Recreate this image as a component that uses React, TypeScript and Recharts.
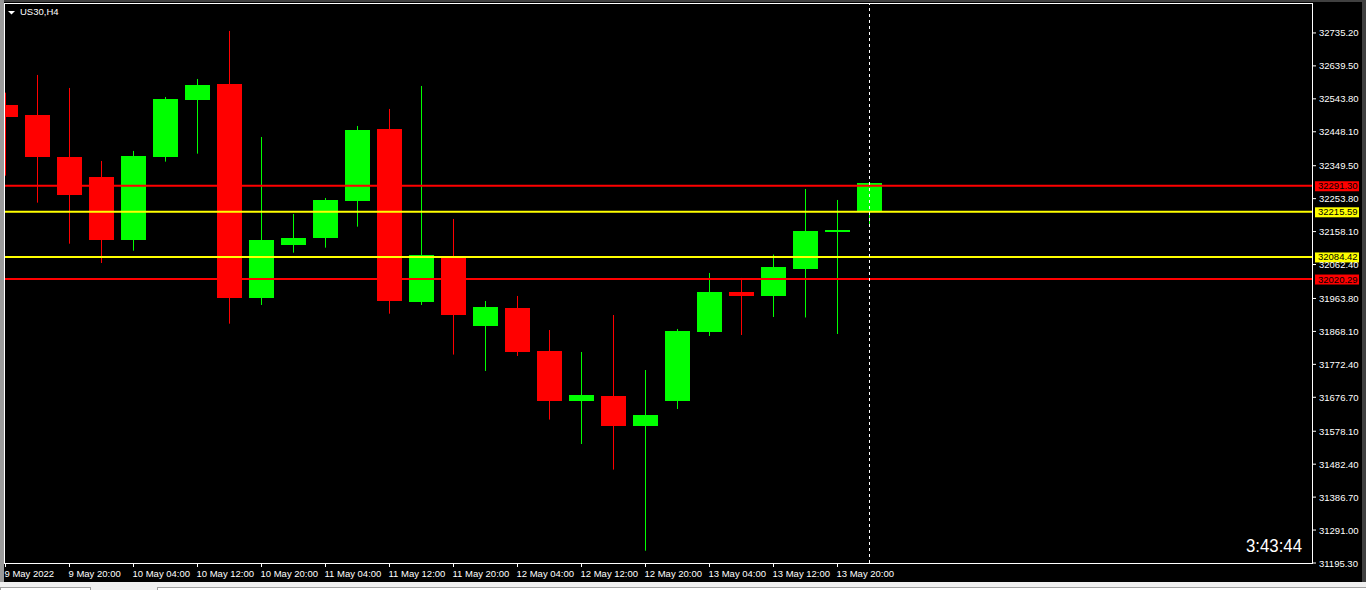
import { ComposedChart, Bar, XAxis, YAxis, ReferenceLine } from "recharts";

// US30 H4 candles, 9 May 12:00 .. 14 May 00:00
const times = [
  "9 May 12:00", "9 May 16:00", "9 May 20:00", "10 May 00:00", "10 May 04:00", "10 May 08:00",
  "10 May 12:00", "10 May 16:00", "10 May 20:00", "11 May 00:00", "11 May 04:00", "11 May 08:00",
  "11 May 12:00", "11 May 16:00", "11 May 20:00", "12 May 00:00", "12 May 04:00", "12 May 08:00",
  "12 May 12:00", "12 May 16:00", "12 May 20:00", "13 May 00:00", "13 May 04:00", "13 May 08:00",
  "13 May 12:00", "13 May 16:00", "13 May 20:00", "14 May 00:00",
];
const opens = [
  32526.0, 32496.9, 32374.9, 32316.8, 32134.6, 32375.8, 32541.4, 32587.0, 31966.2, 32120.1,
  32140.5, 32247.9, 32456.3, 31954.5, 32088.2, 31883.6, 31936.5, 31811.2, 31666.8, 31680.5,
  31593.3, 31666.0, 31866.5, 31982.7, 31971.1, 32049.5, 32157.0, 32218.0,
];
const highs = [
  32561.7, 32613.2, 32575.4, 32363.3, 32392.4, 32549.2, 32601.5, 32741.0, 32433.0, 32209.3,
  32255.8, 32465.0, 32514.4, 32581.2, 32194.8, 31956.5, 31971.1, 31872.2, 31808.3, 31915.8,
  31756.0, 31875.2, 32037.9, 32023.4, 32091.3, 32281.9, 32250.0, 32299.7,
];
const lows = [
  32320.6, 32242.2, 32123.0, 32066.9, 32102.7, 32361.3, 32384.5, 31890.6, 31944.9, 32096.9,
  32111.4, 32172.4, 31919.6, 31944.9, 31800.8, 31753.2, 31796.7, 31611.9, 31541.0, 31466.7,
  31231.0, 31642.7, 31854.8, 31857.7, 31910.0, 31908.6, 31860.6, 32171.5,
];
const closes = [
  32492.0, 32375.8, 32265.4, 32134.6, 32377.8, 32543.4, 32584.1, 31966.2, 32133.8, 32139.6,
  32250.0, 32453.4, 31957.4, 32090.2, 31917.0, 31938.8, 31808.0, 31666.0, 31683.4, 31593.3,
  31625.3, 31869.4, 31982.7, 31971.1, 32053.9, 32159.9, 32162.8, 32299.7,
];

const priceTicks = [
  32735.2, 32639.5, 32543.8, 32448.1, 32349.5, 32253.8, 32158.1, 32062.4, 31963.8,
  31868.1, 31772.4, 31676.7, 31578.1, 31482.4, 31386.7, 31291.0, 31195.3,
];
const timeTicks = [0, 2, 4, 6, 8, 10, 12, 14, 16, 18, 20, 22, 24, 26];
const timeLabels = [
  "9 May 2022", "9 May 20:00", "10 May 04:00", "10 May 12:00", "10 May 20:00", "11 May 04:00",
  "11 May 12:00", "11 May 20:00", "12 May 04:00", "12 May 12:00", "12 May 20:00", "13 May 04:00",
  "13 May 12:00", "13 May 20:00",
];
const levels = [32291.30, 32215.59, 32084.42, 32020.29];
const levelColors = ["#ff0000", "#ffff00", "#ffff00", "#ff0000"];
const lastBar = 27;

const data = times.map((t, i) => ({
  i, time: t, open: opens[i], high: highs[i], low: lows[i], close: closes[i],
}));

const FONT = "'Liberation Sans', Arial, sans-serif";
const UP = "#00ff00";
const DOWN = "#ff0000";

function Candle(props: any) {
  const { x, y, width, height, payload } = props;
  const { open, close, high, low } = payload;
  const color = close >= open ? UP : DOWN;
  const k = height / (high - low || 1);
  const py = (v: number) => y + (high - v) * k;
  const cx = Math.round(x + width / 2);
  const top = Math.round(py(Math.max(open, close)));
  const bot = Math.round(py(Math.min(open, close)));
  return (
    <g>
      <line x1={cx + 0.5} x2={cx + 0.5} y1={y} y2={y + height} stroke={color} strokeWidth={1} />
      <rect x={cx - 12} y={top} width={25} height={Math.max(bot - top, 2)} fill={color} />
    </g>
  );
}

const levelTag = (value: number, color: string) => (props: any) => {
  const vb = props.viewBox || {};
  const right = (vb.x ?? 0) + (vb.width ?? 0);
  const y = vb.y ?? 0;
  return (
    <g>
      <rect x={right + 3} y={y - 4.5} width={44} height={10} fill={color} />
      <text x={right + 6} y={y + 3.5} fontSize={9.5} fontFamily={FONT} fill="#000">
        {value.toFixed(2)}
      </text>
    </g>
  );
};

function TimeTick(props: any) {
  const { x, y, payload } = props;
  const idx = timeTicks.indexOf(payload.value);
  return (
    <text x={x - 1} y={y + 8} fontSize={9.5} fontFamily={FONT} fill="#ffffff" textAnchor="start">
      {timeLabels[idx]}
    </text>
  );
}

function PriceTick(props: any) {
  const { x, y, payload } = props;
  return (
    <text x={x + 1} y={y + 3.5} fontSize={9.5} fontFamily={FONT} fill="#ffffff" textAnchor="start">
      {Number(payload.value).toFixed(2)}
    </text>
  );
}

export default function App() {
  return (
    <div style={{ position: "absolute", left: 0, top: 0, width: 1366, height: 590, background: "#000", overflow: "hidden" }}>
      <ComposedChart width={1366} height={590} data={data} margin={{ top: 4, right: 0, bottom: 7, left: 5 }}>
        <XAxis
          dataKey="i"
          type="number"
          domain={[-0.015625, 40.828125]}
          allowDataOverflow
          ticks={timeTicks}
          tick={<TimeTick />}
          tickLine={{ stroke: "#ffffff" }}
          tickSize={4}
          tickMargin={2}
          axisLine={false}
          height={20}
          interval={0}
        />
        <YAxis
          orientation="right"
          domain={[31195.3, 32819.3]}
          allowDataOverflow
          ticks={priceTicks}
          tick={<PriceTick />}
          tickLine={{ stroke: "#ffffff" }}
          tickSize={4}
          tickMargin={2}
          axisLine={false}
          width={54}
          interval={0}
        />
        {levels.map((v, k) => (
          <ReferenceLine key={v} y={v} stroke={levelColors[k]} strokeWidth={2} label={levelTag(v, levelColors[k])} />
        ))}
        <ReferenceLine x={lastBar} stroke="#ffffff" strokeDasharray="3 3" strokeWidth={1} />
        <Bar
          dataKey={(d: any) => [d.low, d.high]}
          barSize={25}
          shape={(p: any) => <Candle {...p} />}
          isAnimationActive={false}
        />
      </ComposedChart>
      <svg width={1366} height={590} style={{ position: "absolute", left: 0, top: 0, pointerEvents: "none" }}>
        <rect x={0} y={0} width={1366} height={2} fill="#404040" />
        <rect x={0} y={0} width={4} height={582} fill="#9a9a9a" />
        <rect x={1362} y={0} width={4} height={582} fill="#404040" />
        <rect x={0} y={582} width={1366} height={8} fill="#f0f0f0" />
        <rect x={0.5} y={587.5} width={90} height={4} fill="#ffffff" stroke="#a0a0a0" />
        <rect x={157.5} y={587.5} width={1210} height={4} fill="#ffffff" stroke="#a0a0a0" />
        <rect x={4.5} y={3.5} width={1308} height={560} fill="none" stroke="#ffffff" strokeWidth={1} />
        <path d="M8 11 L15 11 L11.5 14.5 Z" fill="#ffffff" />
        <text x={20} y={15} fontSize={9.5} fontFamily={FONT} fill="#ffffff">US30,H4</text>
        <text x={1246} y={552} fontSize={19} fontFamily={FONT} fill="#ffffff" textLength={56} lengthAdjust="spacingAndGlyphs">
          3:43:44
        </text>
      </svg>
    </div>
  );
}
